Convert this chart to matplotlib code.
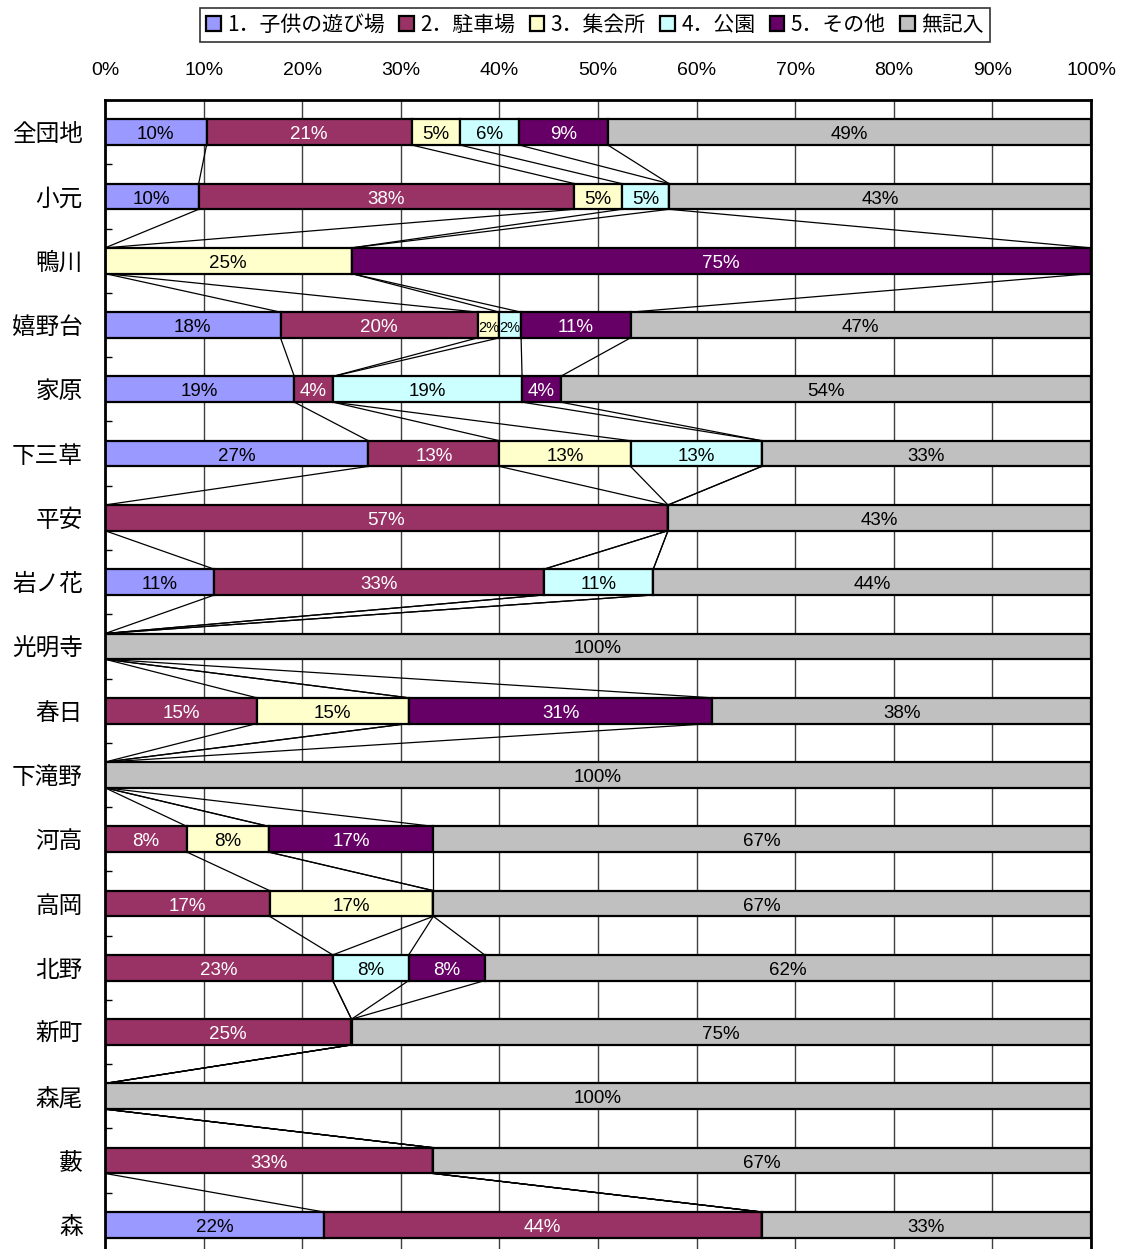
import matplotlib.pyplot as plt
from matplotlib.ticker import FixedLocator, PercentFormatter
import numpy as np

plt.rcParams['font.family'] = ['Noto Sans CJK JP', 'DejaVu Sans']

areas = ['全団地', '小元', '鴨川', '嬉野台', '家原', '下三草', '平安', '岩ノ花', '光明寺',
         '春日', '下滝野', '河高', '高岡', '北野', '新町', '森尾', '藪', '森']

# share of answers per area (%)
kids_play = [10.3, 9.5, 0, 17.8, 19.2, 26.7, 0, 11.1, 0, 0, 0, 0, 0, 0, 0, 0, 0, 22.2]
parking = [20.8, 38.1, 0, 20.0, 3.9, 13.3, 57.1, 33.4, 0, 15.4, 0, 8.3, 16.7, 23.1, 25.0, 0, 33.3, 44.4]
hall = [4.9, 4.8, 25.0, 2.2, 0, 13.3, 0, 0, 0, 15.4, 0, 8.3, 16.6, 0, 0, 0, 0, 0]
park = [6.0, 4.8, 0, 2.2, 19.2, 13.3, 0, 11.1, 0, 0, 0, 0, 0, 7.7, 0, 0, 0, 0]
other = [9.0, 0, 75.0, 11.1, 3.9, 0, 0, 0, 0, 30.8, 0, 16.7, 0, 7.7, 0, 0, 0, 0]
no_answer = [49.0, 42.8, 0, 46.7, 53.8, 33.4, 42.9, 44.4, 100.0, 38.4, 100.0, 66.7, 66.7, 61.5, 75.0, 100.0, 66.7, 33.4]

series_names = ['1．子供の遊び場', '2．駐車場', '3．集会所', '4．公園', '5．その他', '無記入']
series_colors = ['#9999FF', '#993366', '#FFFFCC', '#CCFFFF', '#660066', '#C0C0C0']
text_colors = ['black', 'white', 'black', 'black', 'white', 'black']

data = np.array([kids_play, parking, hall, park, other, no_answer])
cum = np.cumsum(data, axis=0)
left = cum - data

fig = plt.figure(figsize=(11.23, 12.49), dpi=100)
ax = fig.add_axes([105 / 1123, -0.0064, 986 / 1123, 0.9263])

y = np.arange(len(areas))
h = 0.4
num_font = ['Liberation Sans', 'DejaVu Sans']

bars = []
for k in range(len(series_names)):
    b = ax.barh(y, data[k], left=left[k], height=h, color=series_colors[k],
                edgecolor='black', linewidth=1.6, label=series_names[k], zorder=3)
    bars.append(b)
    for i in range(len(areas)):
        v = data[k][i]
        if v > 0:
            # very thin segments get a smaller label so neighbours don't collide
            fs = 10.5 if v < 3 else 13.5
            ax.text(left[k][i] + v / 2, y[i] + 0.04, '%.0f%%' % v,
                    ha='center', va='center', fontsize=fs, color=text_colors[k],
                    family=num_font, zorder=4)

# series lines between neighbouring bars
for i in range(len(areas) - 1):
    for k in range(len(series_names)):
        ax.plot([cum[k][i], cum[k][i + 1]], [y[i] + h / 2, y[i + 1] - h / 2],
                color='black', linewidth=0.9, zorder=2)

ax.set_xlim(0, 100)
ax.set_ylim(len(areas) - 0.5, -0.5)
ax.xaxis.tick_top()
ax.set_xticks(np.arange(0, 101, 10))
ax.xaxis.set_major_formatter(PercentFormatter(decimals=0))
ax.tick_params(axis='x', length=0, pad=15, labelsize=14)
for lab in ax.get_xticklabels():
    lab.set_family(num_font)
ax.grid(axis='x', color='#404040', linewidth=1, zorder=1)

ax.set_yticks(y)
ax.set_yticklabels(areas, fontsize=17)
ax.tick_params(axis='y', which='major', length=0, pad=16)
ax.yaxis.set_minor_locator(FixedLocator(np.arange(0.5, len(areas) - 1, 1)))
ax.tick_params(axis='y', which='minor', direction='in', length=5, width=1, color='black')
for s in ax.spines.values():
    s.set_linewidth(2)
    s.set_color('black')
    s.set_zorder(5)

leg = fig.legend(handles=bars, labels=series_names, loc='center',
                 bbox_to_anchor=(595 / 1123, 1 - 25 / 1249), ncol=6, fontsize=15,
                 frameon=True, fancybox=False, edgecolor='black', handlelength=0.7,
                 handleheight=0.7, handletextpad=0.3, columnspacing=0.7,
                 borderpad=0.3, borderaxespad=0)
leg.get_frame().set_linewidth(1.2)

fig.savefig('out.png', dpi=100)
